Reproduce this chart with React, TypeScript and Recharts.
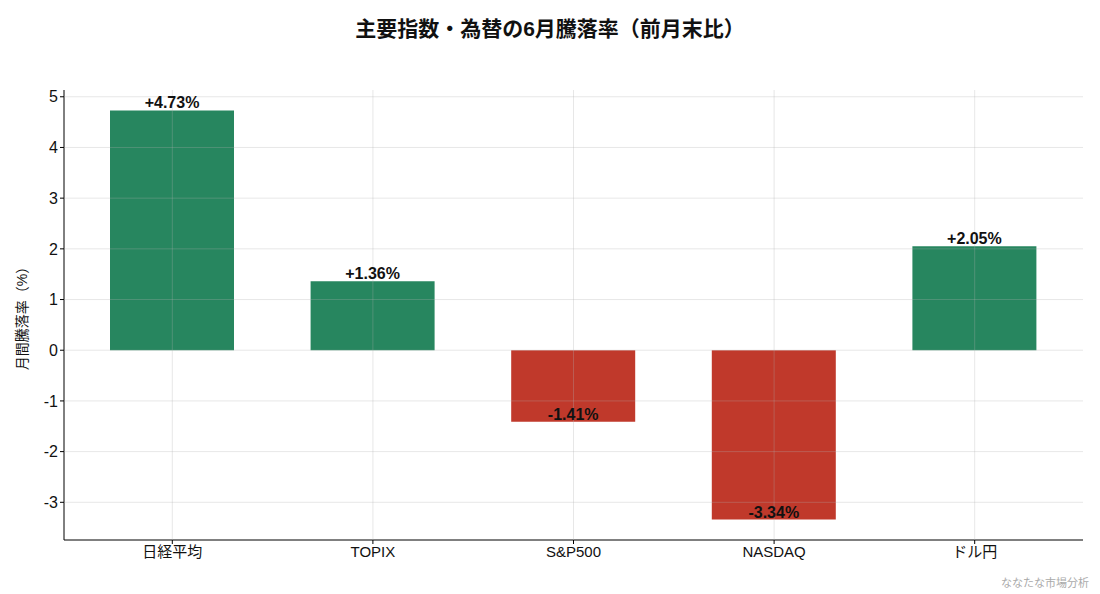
import { BarChart, Bar, XAxis, YAxis, CartesianGrid, Cell, LabelList } from 'recharts';

const categories = ['日経平均', 'TOPIX', 'S&P500', 'NASDAQ', 'ドル円'];
const changes = [4.73, 1.36, -1.41, -3.34, 2.05];
const yTicks = [-3, -2, -1, 0, 1, 2, 3, 4, 5];
const yDomain: [number, number] = [-3.7435, 5.1335];

const UP = '#27865f';
const DOWN = '#c0392b';
const FONT = '"Liberation Sans", "Noto Sans CJK JP", sans-serif';
const X_PAD = 8;

const data = categories.map((name, i) => ({ name, value: changes[i] }));

function ValueLabel(props: any) {
  const { x, y, width, height, value } = props;
  const a = Number(y);
  const b = Number(y) + Number(height);
  const end = value >= 0 ? Math.min(a, b) : Math.max(a, b);
  const text = (value >= 0 ? '+' : '') + Number(value).toFixed(2) + '%';
  return (
    <text
      x={Number(x) + Number(width) / 2}
      y={end - 2}
      textAnchor="middle"
      fontFamily={FONT}
      fontWeight={700}
      fontSize={16}
      fill="#111"
    >
      {text}
    </text>
  );
}

// grid lines only at the tick positions (no frame lines at the plot edges)
const hLines = ({ offset }: any) => {
  const [lo, hi] = yDomain;
  return yTicks.map((t) => offset.top + ((hi - t) / (hi - lo)) * offset.height);
};
const vLines = ({ offset }: any) => {
  const step = (offset.width - 2 * X_PAD) / categories.length;
  return categories.map((_, i) => offset.left + X_PAD + step * (i + 0.5));
};

export default function App() {
  return (
    <div style={{ position: 'absolute', left: 0, top: 0, width: 1100, height: 594, background: '#fff', fontFamily: FONT }}>
      <BarChart
        width={1100}
        height={594}
        data={data}
        margin={{ top: 90, right: 17, bottom: 24, left: 0 }}
      >
        <XAxis
          dataKey="name"
          padding={{ left: X_PAD, right: X_PAD }}
          tickLine={{ stroke: '#000' }}
          axisLine={{ stroke: '#000' }}
          tickSize={4}
          tick={{ fill: '#111', fontSize: 15, fontFamily: FONT }}
          height={30}
        />
        <YAxis
          type="number"
          domain={yDomain}
          ticks={yTicks}
          allowDataOverflow
          width={64}
          tickLine={{ stroke: '#000' }}
          axisLine={{ stroke: '#000' }}
          tickSize={4}
          tick={{ fill: '#111', fontSize: 16, fontFamily: FONT }}
          label={{
            value: '月間騰落率（%）',
            angle: -90,
            position: 'insideLeft',
            dx: 17,
            style: { textAnchor: 'middle', fontSize: 14, fill: '#111', fontFamily: FONT },
          }}
        />
        <Bar dataKey="value" barSize={124} isAnimationActive={false}>
          {data.map((d) => (
            <Cell key={d.name} fill={d.value >= 0 ? UP : DOWN} />
          ))}
          <LabelList dataKey="value" content={<ValueLabel />} />
        </Bar>
        <CartesianGrid
          stroke="#b0b0b0"
          strokeOpacity={0.3}
          horizontalCoordinatesGenerator={hLines}
          verticalCoordinatesGenerator={vLines}
          {...({ zIndex: 500 } as any)}
        />
        <text x={550} y={36} textAnchor="middle" fontFamily={FONT} fontWeight={700} fontSize={21} fill="#111">
          主要指数・為替の6月騰落率（前月末比）
        </text>
        <text x={1089} y={587} textAnchor="end" fontFamily={FONT} fontSize={11} fill="#aaa">
          ななたな市場分析
        </text>
      </BarChart>
    </div>
  );
}
